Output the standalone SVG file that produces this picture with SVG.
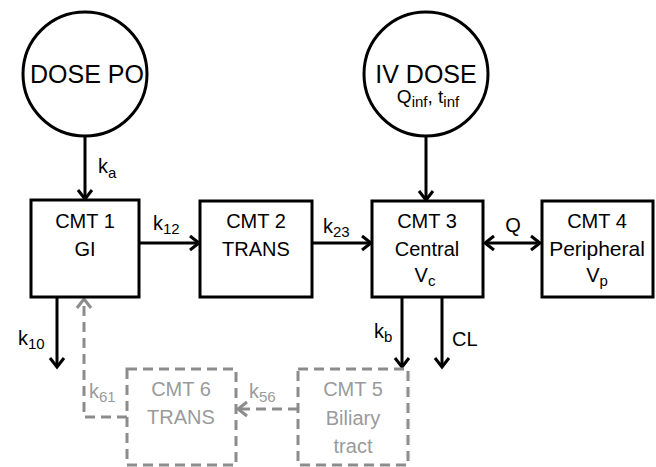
<svg xmlns="http://www.w3.org/2000/svg" width="656" height="467" viewBox="0 0 656 467">
<defs>
<marker id="ah" markerUnits="userSpaceOnUse" markerWidth="20" markerHeight="20" viewBox="-12 -10 14 20" refX="0" refY="0" orient="auto-start-reverse" overflow="visible">
<path d="M-9,-7 L0,0 L-9,7" fill="none" stroke="#000" stroke-width="3"/>
</marker>
<marker id="ahg" markerUnits="userSpaceOnUse" markerWidth="20" markerHeight="20" viewBox="-12 -10 14 20" refX="0" refY="0" orient="auto-start-reverse" overflow="visible">
<path d="M-9,-7 L0,0 L-9,7" fill="none" stroke="#8c8c8c" stroke-width="3"/>
</marker>
</defs>
<style>
text{font-family:"Liberation Sans",Arial,sans-serif;font-size:20px;fill:#000}
.node{fill:#fff;stroke:#000;stroke-width:3}
.dnode{fill:none;stroke:#8c8c8c;stroke-width:3;stroke-dasharray:10,6}
.c{text-anchor:middle}
.g{fill:#9a9a9a}
.big{font-size:25px}
.ln{fill:none;stroke:#000;stroke-width:3;marker-end:url(#ah)}
.dl{fill:none;stroke:#8c8c8c;stroke-width:3;stroke-dasharray:10,6;marker-end:url(#ahg)}
.sub{font-size:15px}
</style>
<rect width="656" height="467" fill="#fff"/>
<g id="connectors">
<line class="ln" x1="85" y1="136" x2="85" y2="199"/>
<line class="ln" x1="139" y1="243" x2="199" y2="243"/>
<line class="ln" x1="312" y1="243" x2="371" y2="243"/>
<line class="ln" x1="426" y1="136" x2="426" y2="200"/>
<line class="ln" x1="485" y1="243" x2="540" y2="243" style="marker-start:url(#ah)"/>
<line class="ln" x1="57" y1="297" x2="57" y2="367"/>
<line class="ln" x1="402" y1="297" x2="402" y2="367"/>
<line class="ln" x1="442" y1="297" x2="442" y2="367"/>
<path class="dl" d="M127,417 H84 V299"/>
<line class="dl" x1="298" y1="409" x2="238" y2="409"/>
<text x="98" y="173">k<tspan class="sub" dy="5">a</tspan></text>
<text x="153" y="230">k<tspan class="sub" dy="4">12</tspan></text>
<text x="323" y="233">k<tspan class="sub" dy="4">23</tspan></text>
<text x="513" y="232" class="c">Q</text>
<text x="18" y="345">k<tspan class="sub" dy="4">10</tspan></text>
<text x="374" y="338">k<tspan class="sub" dy="4">b</tspan></text>
<text x="452" y="346">CL</text>
<text x="89" y="398" class="g">k<tspan class="sub" dy="4">61</tspan></text>
<text x="249" y="398" class="g">k<tspan class="sub" dy="4">56</tspan></text>
</g>
<g id="dosepo">
<circle class="node" cx="85" cy="74" r="62"/>
<text x="87" y="83" class="c big">DOSE PO</text>
</g>
<g id="ivdose">
<circle class="node" cx="426" cy="74" r="62"/>
<text x="426" y="83" class="c big">IV DOSE</text>
<text x="428" y="103" class="c" style="font-size:19px">Q<tspan class="sub" dy="4">inf</tspan><tspan dy="-4">, t</tspan><tspan class="sub" dy="4">inf</tspan></text>
</g>
<g id="cmt1">
<rect class="node" x="31" y="200" width="108" height="97"/>
<text x="85" y="228" class="c">CMT 1</text>
<text x="85" y="256" class="c">GI</text>
</g>
<g id="cmt2">
<rect class="node" x="200" y="201" width="112" height="96"/>
<text x="256" y="228" class="c">CMT 2</text>
<text x="256" y="256" class="c">TRANS</text>
</g>
<g id="cmt3">
<rect class="node" x="372" y="201" width="111" height="96"/>
<text x="427" y="228" class="c">CMT 3</text>
<text x="427" y="256" class="c">Central</text>
<text x="425" y="282" class="c">V<tspan class="sub" dy="4">c</tspan></text>
</g>
<g id="cmt4">
<rect class="node" x="542" y="201" width="111" height="96"/>
<text x="597" y="228" class="c">CMT 4</text>
<text x="597" y="256" class="c" style="font-size:21px">Peripheral</text>
<text x="597" y="282" class="c">V<tspan class="sub" dy="4">p</tspan></text>
</g>
<g id="cmt5">
<rect class="dnode" x="298" y="369" width="110" height="96"/>
<text x="353" y="396" class="c g">CMT 5</text>
<text x="353" y="425" class="c g">Biliary</text>
<text x="353" y="453" class="c g">tract</text>
</g>
<g id="cmt6">
<rect class="dnode" x="127" y="369" width="109" height="96"/>
<text x="181" y="396" class="c g">CMT 6</text>
<text x="181" y="424" class="c g">TRANS</text>
</g>
</svg>
